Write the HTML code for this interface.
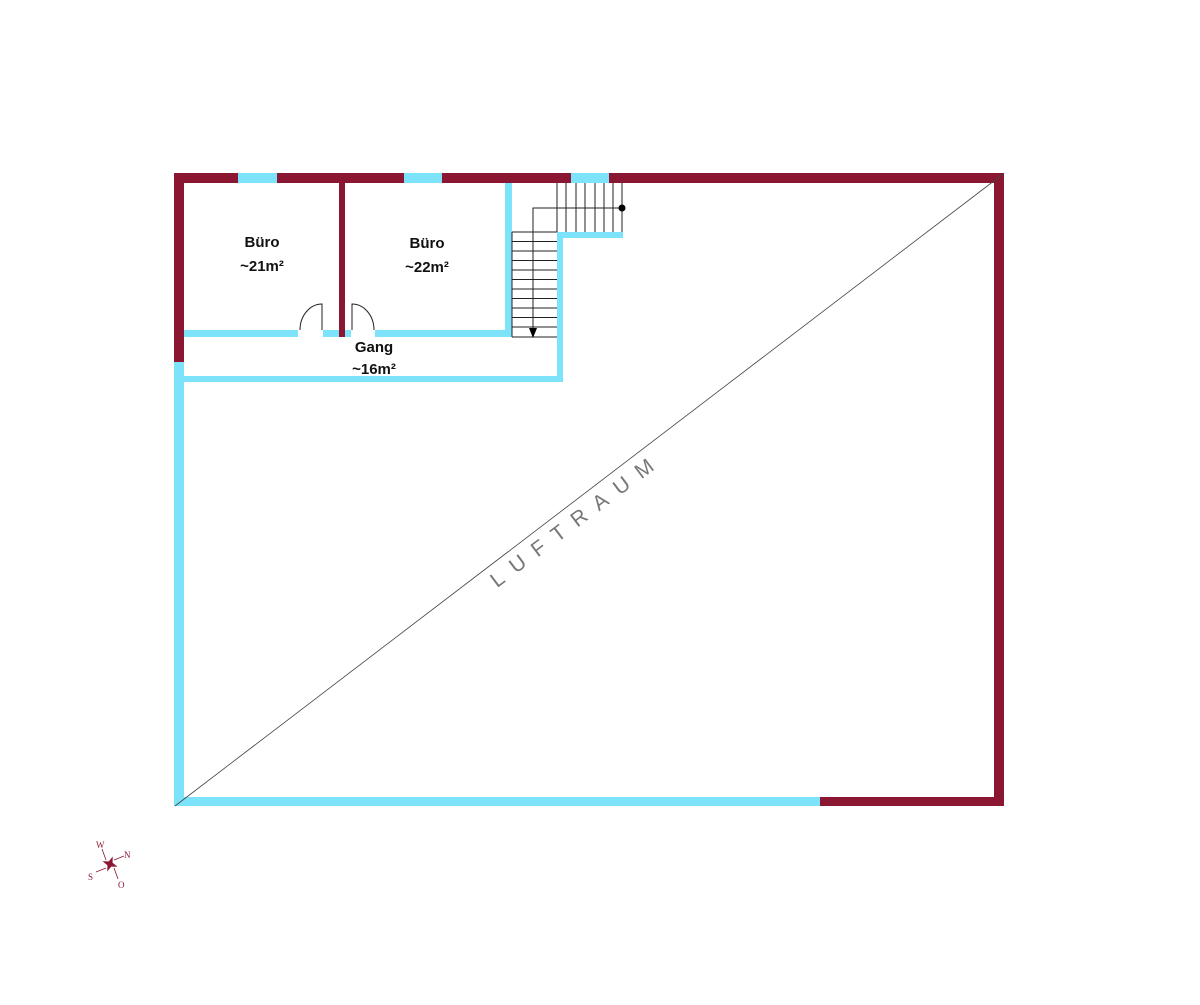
<!DOCTYPE html>
<html><head><meta charset="utf-8"><style>
html,body{margin:0;padding:0;background:#fff;}
</style></head><body>
<svg width="1200" height="1000" viewBox="0 0 1200 1000" xmlns="http://www.w3.org/2000/svg">
<g fill="#8b1631">
<rect x="174" y="173" width="830" height="10"/>
<rect x="174" y="173" width="10" height="189"/>
<rect x="994" y="173" width="10" height="633"/>
<rect x="820" y="797" width="184" height="9"/>
<rect x="339" y="183" width="6" height="154"/>
</g>
<g fill="#7de3fb">
<rect x="238" y="173" width="39" height="10"/>
<rect x="404" y="173" width="38" height="10"/>
<rect x="571" y="173" width="38" height="10"/>
<rect x="174" y="362" width="10" height="444"/>
<rect x="174" y="797" width="646" height="9"/>
<rect x="184" y="330" width="114" height="7"/>
<rect x="323" y="330" width="16" height="7"/>
<rect x="345" y="330" width="6" height="7"/>
<rect x="375" y="330" width="137" height="7"/>
<rect x="505" y="183" width="7" height="154"/>
<rect x="184" y="376" width="379" height="6"/>
<rect x="557" y="232" width="6" height="150"/>
<rect x="557" y="232" width="66" height="6"/>
</g>
<line x1="175" y1="806" x2="1003" y2="174" stroke="#444" stroke-width="0.8"/>
<g stroke="#222" stroke-width="1" fill="none">
<path d="M322 330 V304 A22 26 0 0 0 300 330"/>
<path d="M352 330 V304 A22 26 0 0 1 374 330"/>
<path d="M557 183V232 M566 183V232 M576 183V232 M585 183V232 M595 183V232 M604 183V232 M613 183V232 M622 183V232"/>
<path d="M512 232H557 M512 241.5H557 M512 251H557 M512 260.5H557 M512 270H557 M512 279.5H557 M512 289H557 M512 298.5H557 M512 308H557 M512 317.5H557 M512 327H557 M512 337H557 M512 232V337"/>
<path d="M622 208H533V333"/>
</g>
<circle cx="622" cy="208" r="3.5" fill="#000"/>
<path d="M529 328 L533 338 L537 328 Z" fill="#000"/>
<g font-family="'Liberation Sans',sans-serif" font-weight="bold" font-size="15" fill="#111" text-anchor="middle">
<text x="262" y="247">Büro</text><text x="262" y="271">~21m²</text>
<text x="427" y="248">Büro</text><text x="427" y="272">~22m²</text>
<text x="374" y="352">Gang</text><text x="374" y="374">~16m²</text>
</g>
<text x="578" y="530" transform="rotate(-37 572 523)" font-family="'Liberation Sans',sans-serif" font-size="21" letter-spacing="12" fill="#777" text-anchor="middle">LUFTRAUM</text>
<g transform="translate(110,864)" fill="#8b1631" font-family="'Liberation Serif',serif" font-size="9">
<path d="M0 -8 L2 -2 L8 0 L2 2 L0 8 L-2 2 L-8 0 L-2 -2 Z" transform="rotate(20)"/>
<path d="M-4 -4 L-8 -15 M4 -4 L14 -8 M-4 4 L-14 8 M4 4 L8 15" stroke="#8b1631" stroke-width="0.8"/>
<text x="-14" y="-16">W</text><text x="14" y="-6">N</text><text x="-22" y="16">S</text><text x="8" y="24">O</text>
</g>
</svg>
</body></html>
